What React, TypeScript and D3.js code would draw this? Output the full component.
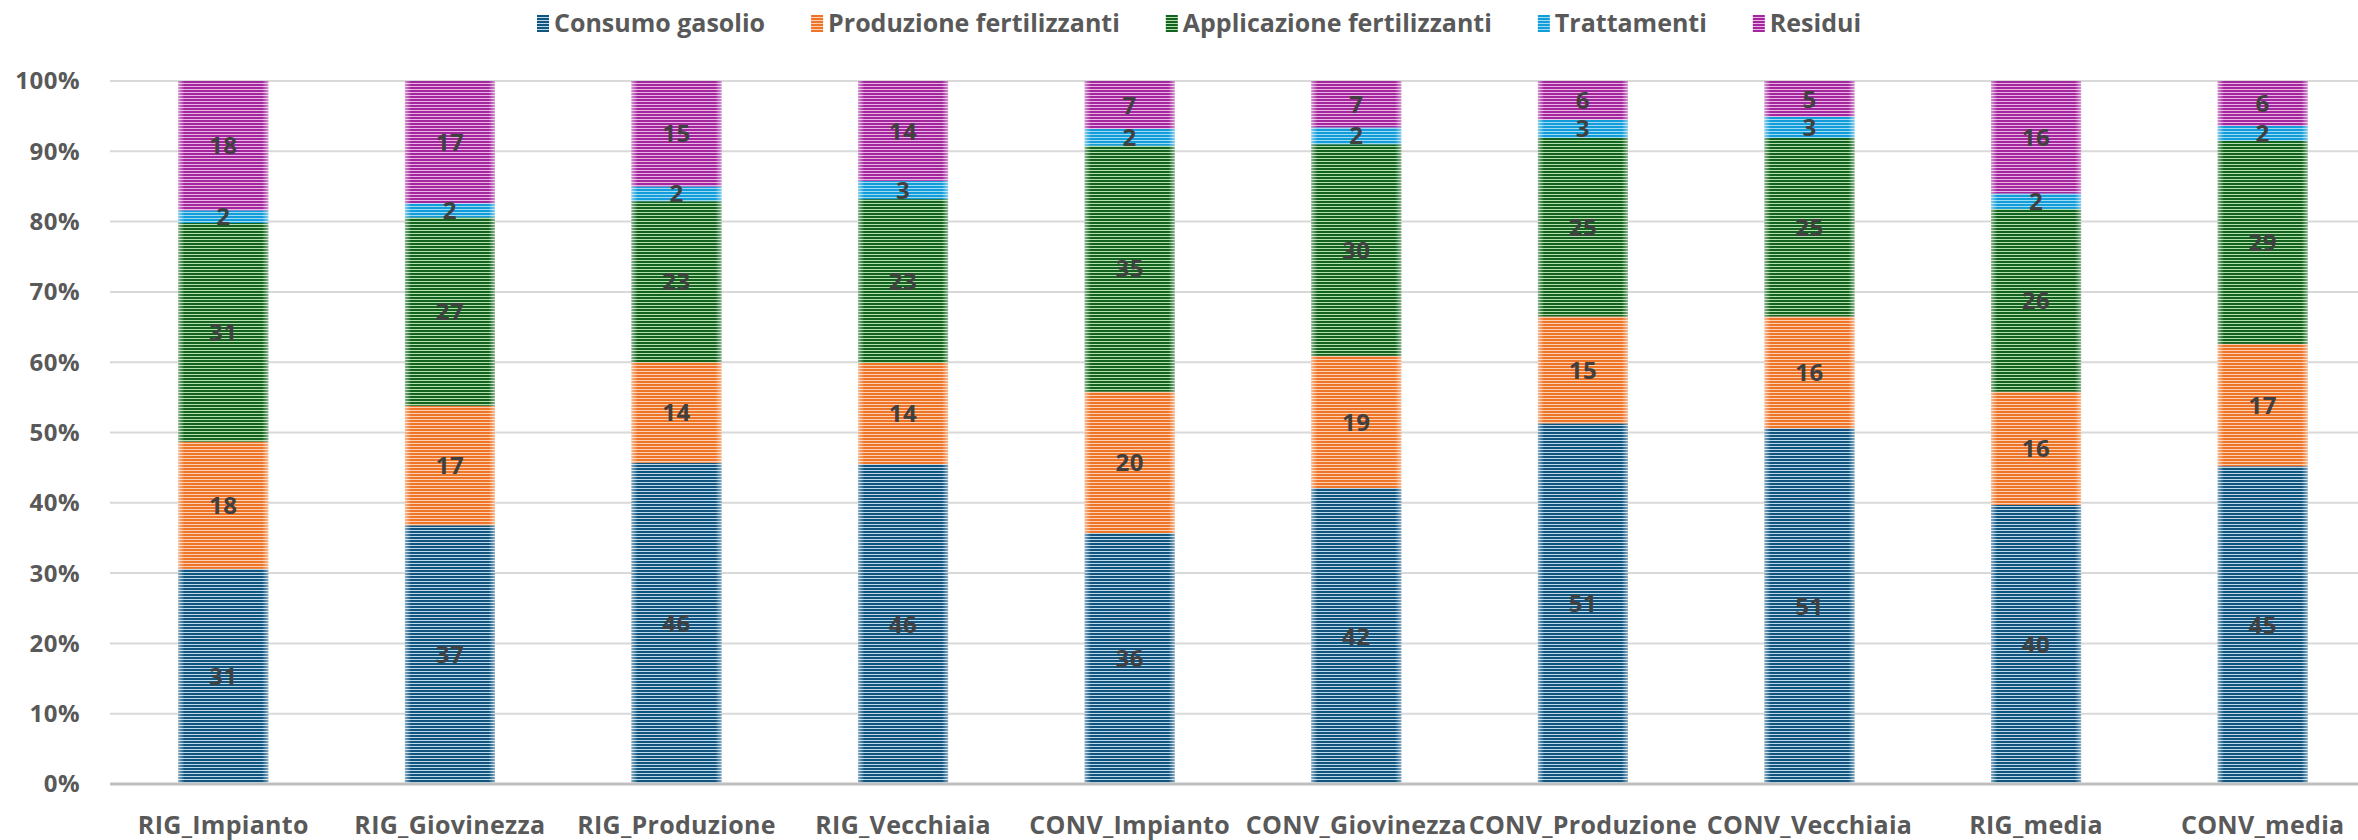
import React, { useMemo } from 'react';
import * as d3 from 'd3';

const categories = ['RIG_Impianto', 'RIG_Giovinezza', 'RIG_Produzione', 'RIG_Vecchiaia', 'CONV_Impianto', 'CONV_Giovinezza', 'CONV_Produzione', 'CONV_Vecchiaia', 'RIG_media', 'CONV_media'];
const seriesNames = ['Consumo gasolio', 'Produzione fertilizzanti', 'Applicazione fertilizzanti', 'Trattamenti', 'Residui'];
const consumoGasolio = [30.6, 36.8, 45.7, 45.5, 35.7, 42.1, 51.3, 50.6, 39.7, 45.2];
const produzioneFertilizzanti = [18.1, 17.0, 14.3, 14.4, 20.1, 18.8, 15.2, 15.9, 16.1, 17.4];
const applicazioneFertilizzanti = [31.1, 26.8, 22.9, 23.3, 35.0, 30.1, 25.4, 25.4, 26.0, 28.9];
const trattamenti = [1.8, 2.0, 2.1, 2.6, 2.4, 2.4, 2.6, 3.0, 2.2, 2.1];
const residui = [18.4, 17.4, 15.0, 14.2, 6.8, 6.6, 5.5, 5.1, 16.0, 6.4];
const yTicks = [0, 10, 20, 30, 40, 50, 60, 70, 80, 90, 100];

const darkColors = ['#11557f', '#ee7427', '#146220', '#129cd9', '#a2279c'];
const lightColors = ['#bcdaec', '#fcd0b2', '#b3e0ad', '#9fdaf3', '#ecb4e6'];

const W = 2358;
const H = 840;
const FONT = "'Open Sans', 'DejaVu Sans', sans-serif";

function measure(text: string, size: number) {
  const fallback = text.length * size * 0.6;
  if (typeof document === 'undefined') return fallback;
  const c = document.createElement('canvas').getContext('2d');
  if (!c) return fallback;
  c.font = `bold ${size}px 'Open Sans'`;
  return c.measureText(text).width;
}

export default function App() {
  const seriesArrays = [consumoGasolio, produzioneFertilizzanti, applicazioneFertilizzanti, trattamenti, residui];
  const table = categories.map((c, i) => {
    const row: any = { cat: c };
    seriesNames.forEach((s, k) => (row[s] = seriesArrays[k][i]));
    return row;
  });
  const stack = d3.stack<any>().keys(seriesNames)(table);

  const x = d3.scaleBand<string>().domain(categories).range([110, 2376]).paddingInner(0.603).paddingOuter(0.3015);
  const y = d3.scaleLinear().domain([0, 100]).range([784, 81]);

  const legend = useMemo(() => {
    let cx = 537;
    return seriesNames.map((s, k) => {
      const item = { s, k, mx: cx, tx: cx + 17 };
      cx += 17 + measure(s, 25) + 46;
      return item;
    });
  }, []);

  const bw = x.bandwidth();

  return (
    <svg width={W} height={H} style={{ position: 'absolute', left: 0, top: 0, background: '#fff' }} fontFamily={FONT}>
      <defs>
        {darkColors.map((d, k) => (
          <pattern key={k} id={`pat${k}`} patternUnits="userSpaceOnUse" x={0} y={0} width={10} height={3}>
            <rect x={0} y={0} width={10} height={3} fill={lightColors[k]} shapeRendering="crispEdges" />
            <rect x={0} y={0} width={10} height={2} fill={d} shapeRendering="crispEdges" />
          </pattern>
        ))}
        <linearGradient id="edge" x1="0" x2="1" y1="0" y2="0">
          <stop offset="0" stopColor="#fff" stopOpacity={0.5} />
          <stop offset="0.07" stopColor="#fff" stopOpacity={0} />
          <stop offset="0.93" stopColor="#fff" stopOpacity={0} />
          <stop offset="1" stopColor="#fff" stopOpacity={0.5} />
        </linearGradient>
      </defs>
      <rect x={0} y={0} width={W} height={H} fill="#fff" />

      {/* gridlines */}
      {yTicks.filter((t) => t > 0).map((t) => (
        <line key={t} x1={110} x2={W} y1={y(t)} y2={y(t)} stroke="#d9d9d9" strokeWidth={2} />
      ))}

      {/* y tick labels */}
      {yTicks.map((t) => (
        <text key={t} x={80} y={y(t)} dy="0.35em" textAnchor="end" fontSize={24} fontWeight={700} fill="#595959" letterSpacing={0.5}>
          {t}%
        </text>
      ))}

      {/* bars */}
      {stack.map((layer, k) => (
        <g key={k}>
          {layer.map((d, i) => (
            <g key={i}>
              <rect x={x(categories[i])!} y={y(d[1])} width={bw} height={y(d[0]) - y(d[1])} fill={`url(#pat${k})`} />
              <rect x={x(categories[i])!} y={y(d[1])} width={bw} height={y(d[0]) - y(d[1])} fill="url(#edge)" />
            </g>
          ))}
        </g>
      ))}

      {/* axis line */}
      <line x1={110} x2={W} y1={y(0)} y2={y(0)} stroke="#bfbfbf" strokeWidth={3} />

      {/* data labels */}
      {stack.map((layer, k) => (
        <g key={k}>
          {layer.map((d, i) => (
            <text key={i} x={x(categories[i])! + bw / 2} y={(y(d[0]) + y(d[1])) / 2} dy="0.36em" textAnchor="middle" fontSize={24} fontWeight={700} fill="#404040" letterSpacing={0.5}>
              {Math.round(d[1] - d[0])}
            </text>
          ))}
        </g>
      ))}

      {/* x labels */}
      {categories.map((c) => (
        <text key={c} x={x(c)! + bw / 2} y={834} textAnchor="middle" fontSize={25} fontWeight={700} fill="#595959" letterSpacing={0.3}>
          {c}
        </text>
      ))}

      {/* legend */}
      {legend.map((l) => (
        <g key={l.s}>
          <rect x={l.mx} y={15} width={12} height={17} fill={`url(#pat${l.k})`} />
          <text x={l.tx} y={32} fontSize={25} fontWeight={700} fill="#595959">
            {l.s}
          </text>
        </g>
      ))}
    </svg>
  );
}
